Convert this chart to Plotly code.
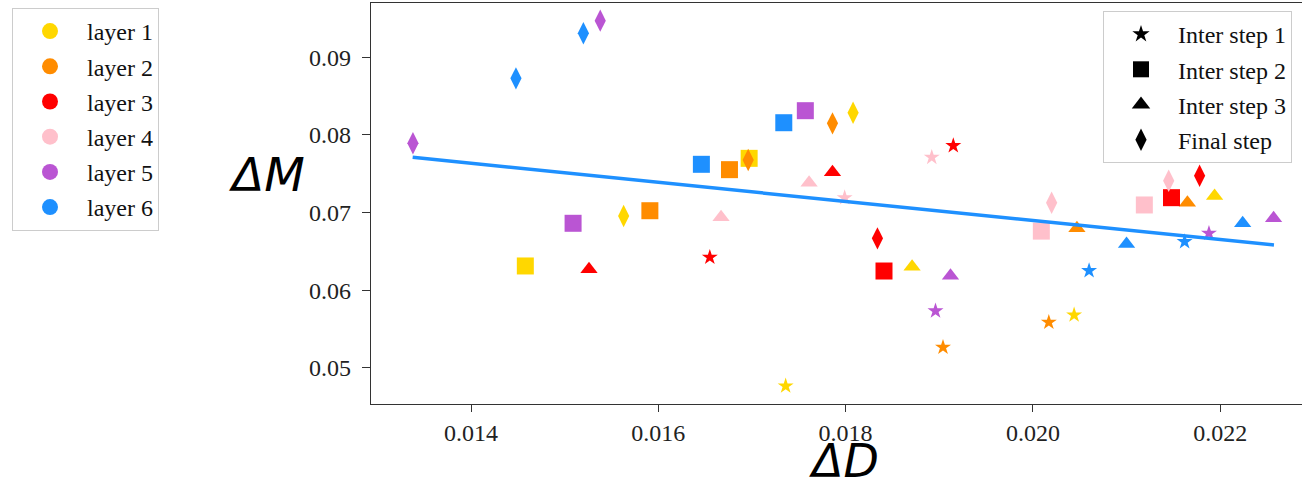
import plotly.graph_objects as go

# ---------------- data ----------------
layers = ["layer 1", "layer 2", "layer 3", "layer 4", "layer 5", "layer 6"]
steps = ["Inter step 1", "Inter step 2", "Inter step 3", "Final step"]

# two points per layer, ordered layer 1 .. layer 6
step1_D = [0.01736, 0.02044, 0.01904, 0.02017, 0.01915, 0.01655,
           0.01892, 0.01799, 0.01896, 0.02188, 0.02060, 0.02162]
step1_M = [0.04764, 0.05679, 0.05263, 0.05585, 0.07861, 0.06423,
           0.07711, 0.07190, 0.05731, 0.06732, 0.06250, 0.06624]

step2_D = [0.01697, 0.01458, 0.01676, 0.01591, 0.01841, 0.02148,
           0.02009, 0.02119, 0.01757, 0.01509, 0.01646, 0.01734]
step2_M = [0.07698, 0.06311, 0.07552, 0.07023, 0.06246, 0.07191,
           0.06760, 0.07097, 0.08312, 0.06861, 0.07621, 0.08157]

step3_D = [0.01871, 0.02194, 0.02047, 0.02165, 0.01786, 0.01526,
           0.01761, 0.01667, 0.01912, 0.02257, 0.02100, 0.02224]
step3_M = [0.06302, 0.07213, 0.06796, 0.07126, 0.07518, 0.06268,
           0.07384, 0.06938, 0.06186, 0.06925, 0.06594, 0.06861]

final_D = [0.01808, 0.01563, 0.01696, 0.01786, 0.01834, 0.02178,
           0.02020, 0.02145, 0.01338, 0.01538, 0.01448, 0.01520]
final_M = [0.08286, 0.06955, 0.07677, 0.08149, 0.06667, 0.07474,
           0.07126, 0.07410, 0.07892, 0.09472, 0.08729, 0.09309]

fit_D = [0.013377, 0.022574]
fit_M = [0.07711, 0.06581]

x_ticks = [0.014, 0.016, 0.018, 0.020, 0.022]
y_ticks = [0.05, 0.06, 0.07, 0.08, 0.09]

# ---------------- styles ----------------
layer_colors = ["#FFD700", "#FF8C00", "#FF0000", "#FFC0CB", "#BA55D3", "#1E90FF"]
step_symbols = ["star", "square", "triangle-up", "diamond-tall"]
step_sizes = [12, 17, 15, 16]
legend_sizes = [13, 16, 16, 16]

step_D = [step1_D, step2_D, step3_D, final_D]
step_M = [step1_M, step2_M, step3_M, final_M]

fig = go.Figure()

for li in range(len(layers)):
    for si in range(len(steps)):
        fig.add_trace(go.Scatter(
            x=step_D[si][2 * li:2 * li + 2],
            y=step_M[si][2 * li:2 * li + 2],
            mode="markers",
            marker=dict(symbol=step_symbols[si], size=step_sizes[si],
                        color=layer_colors[li], line=dict(width=0)),
            showlegend=False, hoverinfo="x+y",
        ))

fig.add_trace(go.Scatter(
    x=fit_D, y=fit_M, mode="lines",
    line=dict(color="#1E90FF", width=3.5), showlegend=False,
))

# legend entries
for li, name in enumerate(layers):
    fig.add_trace(go.Scatter(
        x=[None], y=[None], mode="markers", name=name,
        marker=dict(symbol="circle", size=16, color=layer_colors[li]),
        legend="legend", legendgroup="L" + str(li),
    ))
for si, name in enumerate(steps):
    fig.add_trace(go.Scatter(
        x=[None], y=[None], mode="markers", name=name,
        marker=dict(symbol=step_symbols[si], size=legend_sizes[si], color="black"),
        legend="legend2", legendgroup="S" + str(si),
    ))

W, H = 1302, 488
L, R, T, B = 371, 0, 3, 84
px_per_x = 93650.0   # pixels per unit of ΔD
px_per_y = 7760.0    # pixels per unit of ΔM
x0 = 0.014 - (471 - L) / px_per_x
x1 = 0.014 + (W - R - 471) / px_per_x
y1 = 0.09 + (57.3 - T) / px_per_y
y0 = 0.09 - (H - B - 57.3) / px_per_y

axis_common = dict(
    showgrid=False, zeroline=False, showline=True, mirror=True,
    linecolor="#333333", linewidth=1.3, ticks="outside", tickcolor="#333333",
    tickwidth=1.3, tickfont=dict(family="Liberation Serif", size=24, color="#222222"),
)

legend_common = dict(
    xref="container", yref="container", xanchor="left", yanchor="top",
    bgcolor="white", bordercolor="#cccccc", borderwidth=1,
    font=dict(family="Liberation Serif", size=24, color="#111111"),
    tracegroupgap=1, itemwidth=64,
)

fig.update_layout(
    width=W, height=H,
    margin=dict(l=L, r=R, t=T, b=B, pad=0, autoexpand=False),
    paper_bgcolor="white", plot_bgcolor="white",
    xaxis=dict(range=[x0, x1], tickvals=x_ticks, tickformat=".3f", ticklen=7,
               **axis_common),
    yaxis=dict(range=[y0, y1], tickvals=y_ticks, tickformat=".2f", ticklen=8,
               ticklabelstandoff=6, **axis_common),
    legend=dict(x=12 / W, y=1 - 8 / H, **legend_common),
    legend2=dict(x=1103 / W, y=1 - 11 / H, **legend_common),
    annotations=[
        dict(text="<i>ΔM</i>", xref="paper", yref="paper",
             x=(266.7 - L) / (W - L - R), y=1 - (174.7 - T) / (H - T - B),
             showarrow=False, xanchor="center", yanchor="middle",
             font=dict(family="DejaVu Sans", size=47, color="black")),
        dict(text="<i>ΔD</i>", xref="paper", yref="paper",
             x=(844 - L) / (W - L - R), y=-(461 - (H - B)) / (H - T - B),
             showarrow=False, xanchor="center", yanchor="middle",
             font=dict(family="DejaVu Sans", size=46, color="black")),
    ],
)

fig.write_html("out.html")
